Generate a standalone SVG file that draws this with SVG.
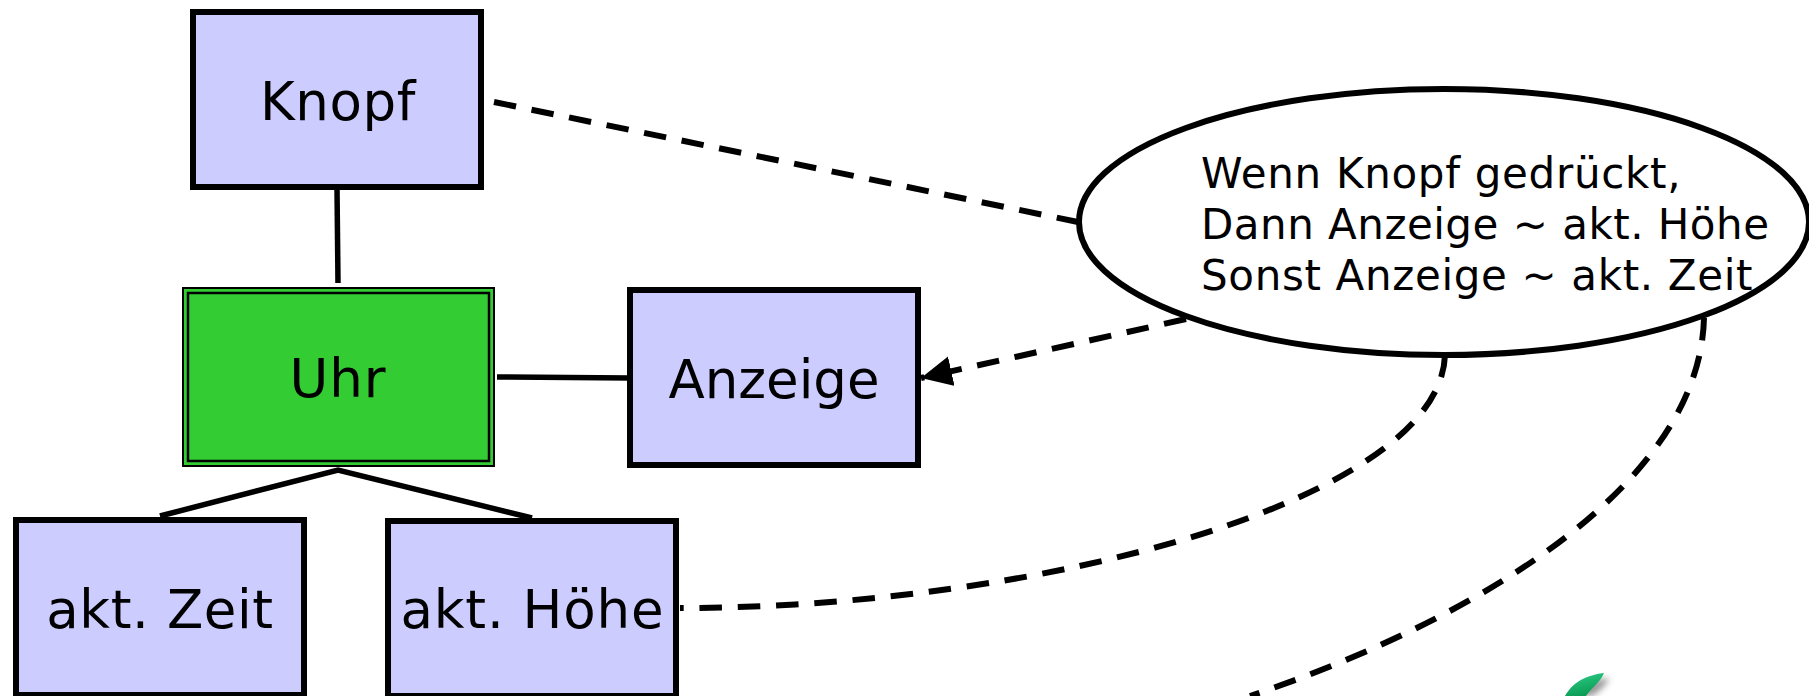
<svg xmlns="http://www.w3.org/2000/svg" width="1809" height="696" viewBox="0 0 1809 696">
<style>
text{font-family:"DejaVu Sans",Verdana,sans-serif;fill:#000}
.box{fill:#ccf;stroke:#000;stroke-width:6}
.lab{font-size:53px;text-anchor:middle}
.line{fill:none;stroke:#000;stroke-width:5.5}
.dash{fill:none;stroke:#000;stroke-width:6;stroke-dasharray:22.5 15.8}
.note{font-size:42px}
</style>
<defs>
<marker id="arrow" markerUnits="userSpaceOnUse" markerWidth="34" markerHeight="34" refX="31" refY="15" orient="auto"><path d="M0 0L31 15L0 30Z" fill="#000"/></marker>
<filter id="sh" x="-40%" y="-40%" width="180%" height="180%"><feGaussianBlur stdDeviation="3"/></filter>
<linearGradient id="gr" x1="0" y1="0" x2="0.4" y2="1"><stop offset="0" stop-color="#2fd08a"/><stop offset="1" stop-color="#0c9c55"/></linearGradient>
</defs>
<g id="connectors">
<path class="line" d="M337 188L338 283"/>
<path class="line" d="M497 377L630 378"/>
<path class="line" d="M160 516L338 470L532 518"/>
<path class="dash" d="M494 102L1078 222"/>
<path class="dash" d="M1186 319L921 378" marker-end="url(#arrow)"/>
<path class="dash" d="M1445 355C1440 500 1040 608 680 608"/>
<path class="dash" d="M1704 318C1700 480 1490 615 1250 696"/>
</g>
<g id="knopf"><rect class="box" x="193" y="12" width="288" height="175"/><text class="lab" x="338" y="120" letter-spacing=".6">Knopf</text></g>
<g id="uhr"><rect x="183" y="288" width="311" height="178" fill="#3c3" stroke="#000" stroke-width="2"/><rect x="188" y="293" width="301" height="168" fill="#3c3" stroke="#000" stroke-width="2.5"/><text class="lab" x="338" y="397" letter-spacing="1">Uhr</text></g>
<g id="anzeige"><rect class="box" x="630" y="290" width="288" height="175"/><text class="lab" x="774" y="398">Anzeige</text></g>
<g id="zeit"><rect class="box" x="16" y="520" width="288" height="175"/><text class="lab" x="160" y="628" letter-spacing=".6">akt. Zeit</text></g>
<g id="hoehe"><rect class="box" x="388" y="521" width="288" height="175"/><text class="lab" x="532.5" y="628" letter-spacing=".9">akt. Höhe</text></g>
<g id="note"><ellipse cx="1444" cy="222" rx="365" ry="133" fill="#fff" stroke="#000" stroke-width="6"/>
<text class="note" x="1201" y="188" letter-spacing=".69">Wenn Knopf gedrückt,</text>
<text class="note" x="1201" y="239" letter-spacing=".48">Dann Anzeige ~ akt. Höhe</text>
<text class="note" x="1201" y="290" letter-spacing=".65">Sonst Anzeige ~ akt. Zeit</text></g>
<g id="mark"><path d="M1572 696C1582 684 1592 680 1609 678C1606 686 1598 692 1592 696Z" fill="#555" opacity=".6" filter="url(#sh)"/><path d="M1565 696C1572 684 1582 676 1604 673C1600 683 1591 688 1586 696Z" fill="url(#gr)"/></g>
</svg>
